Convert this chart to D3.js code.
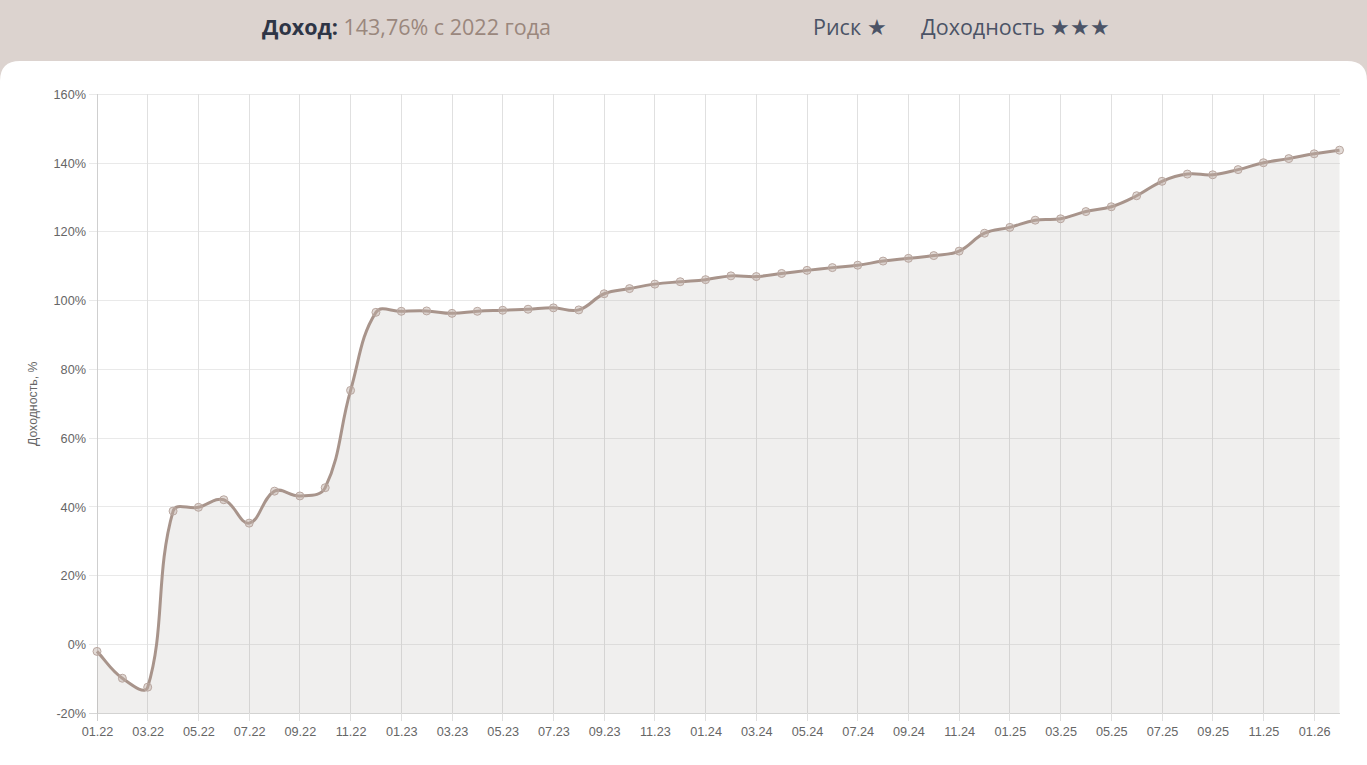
<!DOCTYPE html>
<html>
<head>
<meta charset="utf-8">
<script src="https://cdn.jsdelivr.net/npm/d3@7"></script>
<style>
  html, body { margin: 0; padding: 0; background: #dcd3cf; width: 1367px; height: 765px; overflow: hidden; }
  svg { display: block; }
</style>
</head>
<body>
<svg id="chart" width="1367" height="765"></svg>
<script>
// ---- data ----
const months = ["01.22","02.22","03.22","04.22","05.22","06.22","07.22","08.22","09.22","10.22","11.22","12.22",
  "01.23","02.23","03.23","04.23","05.23","06.23","07.23","08.23","09.23","10.23","11.23","12.23",
  "01.24","02.24","03.24","04.24","05.24","06.24","07.24","08.24","09.24","10.24","11.24","12.24",
  "01.25","02.25","03.25","04.25","05.25","06.25","07.25","08.25","09.25","10.25","11.25","12.25",
  "01.26","02.26"];
const returns = [-2.0, -9.8, -12.4, 38.8, 39.9, 42.1, 35.3, 44.6, 43.2, 45.6, 73.9, 96.6,
  96.9, 97.0, 96.3, 96.9, 97.2, 97.5, 97.9, 97.3, 102.0, 103.5, 104.8, 105.5,
  106.1, 107.2, 107.0, 107.9, 108.8, 109.6, 110.3, 111.5, 112.3, 113.1, 114.4, 119.6,
  121.3, 123.4, 123.8, 125.9, 127.3, 130.5, 134.7, 136.8, 136.6, 138.1, 140.1, 141.3,
  142.7, 143.76];
const yTicks = [-20, 0, 20, 40, 60, 80, 100, 120, 140, 160];
const xTickLabels = months.filter((m, i) => i % 2 === 0);
const headerIncome = "143,76% с 2022 года";

(function () {
// ---- layout ----
const svg = d3.select("#chart");
const W = 1367, H = 765;
const pLeft = 97, pRight = 1339.5, pTop = 94.3, pBottom = 713.3;

// header
const header = svg.append("g").attr("font-family", "'Open Sans', 'Noto Sans', sans-serif").attr("font-size", 21.5);
const t1 = header.append("text").attr("x", 262).attr("y", 35);
t1.append("tspan").attr("font-weight", 700).attr("fill", "#2e3546").text("Доход:");
t1.append("tspan").attr("fill", "#9a877d").text(" " + headerIncome);
header.append("text").attr("x", 813).attr("y", 35).attr("fill", "#4b5366").text("Риск ★");
header.append("text").attr("x", 921).attr("y", 35).attr("fill", "#4b5366").text("Доходность ★★★");

// white card
svg.append("path")
  .attr("d", `M0,${61+20} Q0,61 20,61 L${W-20},61 Q${W},61 ${W},${61+20} L${W},${H} L0,${H} Z`)
  .attr("fill", "#ffffff");

// scales
const x = d3.scalePoint().domain(months).range([pLeft, pRight]);
const y = d3.scaleLinear().domain([-20, 160]).range([pBottom, pTop]);

// Chart.js-like bezier spline as a d3 curve
function ChartJsCurve(context, tension) { this._context = context; this._t = tension; }
ChartJsCurve.prototype = {
  areaStart() { this._line = 0; },
  areaEnd() { this._line = NaN; },
  lineStart() { this._pts = []; },
  point(px, py) { this._pts.push([+px, +py]); },
  lineEnd() {
    const p = this._pts, n = p.length, c = this._context, t = this._t;
    if (n) {
      const cap = v => Math.max(pTop, Math.min(pBottom, v));
      const cps = p.map((cur, i) => {
        const prev = p[Math.max(i - 1, 0)], next = p[Math.min(i + 1, n - 1)];
        const d01 = Math.hypot(cur[0] - prev[0], cur[1] - prev[1]);
        const d12 = Math.hypot(next[0] - cur[0], next[1] - cur[1]);
        let s01 = d01 / (d01 + d12), s12 = d12 / (d01 + d12);
        if (isNaN(s01)) s01 = 0;
        if (isNaN(s12)) s12 = 0;
        const fa = t * s01, fb = t * s12;
        return {
          prev: [cur[0] - fa * (next[0] - prev[0]), cap(cur[1] - fa * (next[1] - prev[1]))],
          next: [cur[0] + fb * (next[0] - prev[0]), cap(cur[1] + fb * (next[1] - prev[1]))]
        };
      });
      if (this._line) c.lineTo(p[0][0], p[0][1]); else c.moveTo(p[0][0], p[0][1]);
      for (let i = 1; i < n; i++) {
        c.bezierCurveTo(cps[i-1].next[0], cps[i-1].next[1], cps[i].prev[0], cps[i].prev[1], p[i][0], p[i][1]);
      }
    }
    if (this._line || (this._line !== 0 && n === 1)) c.closePath();
    this._line = 1 - this._line;
  }
};
const curve = ctx => new ChartJsCurve(ctx, 0.4);

// gridlines
const grid = svg.append("g");
grid.selectAll("line.h").data(yTicks).join("line")
  .attr("x1", pLeft - 8).attr("x2", pRight)
  .attr("y1", d => y(d)).attr("y2", d => y(d))
  .attr("stroke", d => d === -20 ? "#d6d6d6" : "#e9e9e9").attr("stroke-width", 1)
  .attr("shape-rendering", "crispEdges");
grid.selectAll("line.v").data(xTickLabels).join("line")
  .attr("x1", d => x(d)).attr("x2", d => x(d))
  .attr("y1", pTop).attr("y2", pBottom + 8)
  .attr("stroke", (d, i) => i === 0 ? "#cfcfcf" : "#e0e0e0").attr("stroke-width", 1)
  .attr("shape-rendering", "crispEdges");

// area + line
const data = months.map((m, i) => ({ m, v: returns[i] }));
svg.append("path").datum(data)
  .attr("d", d3.area().x(d => x(d.m)).y0(pBottom).y1(d => y(d.v)).curve(curve))
  .attr("fill", "rgba(150,140,135,0.14)");
svg.append("path").datum(data)
  .attr("d", d3.line().x(d => x(d.m)).y(d => y(d.v)).curve(curve))
  .attr("fill", "none").attr("stroke", "#a8948b").attr("stroke-width", 3);

// points
svg.append("g").selectAll("circle").data(data).join("circle")
  .attr("cx", d => x(d.m)).attr("cy", d => y(d.v)).attr("r", 4)
  .attr("fill", "rgba(190,172,165,0.45)").attr("stroke", "#b9a7a0").attr("stroke-width", 1);

// axes labels
const axisFont = "'Liberation Sans', Arial, Helvetica, sans-serif";
const yAxis = d3.axisLeft(y).tickValues(yTicks).tickFormat(d => d + "%").tickSize(0).tickPadding(11);
const gy = svg.append("g").attr("transform", `translate(${pLeft},0)`).call(yAxis);
gy.select(".domain").remove();
gy.selectAll("text").attr("font-family", axisFont).attr("font-size", 12.7).attr("fill", "#666");

const xAxis = d3.axisBottom(x).tickValues(xTickLabels).tickSize(0).tickPadding(14);
const gx = svg.append("g").attr("transform", `translate(0,${pBottom})`).call(xAxis);
gx.select(".domain").remove();
gx.selectAll("text").attr("font-family", axisFont).attr("font-size", 12.7).attr("fill", "#666");

svg.append("text")
  .attr("transform", `translate(37,${(pTop + pBottom) / 2}) rotate(-90)`)
  .attr("text-anchor", "middle")
  .attr("font-family", axisFont).attr("font-size", 12.3).attr("fill", "#666")
  .text("Доходность, %");
})();
</script>
</body>
</html>
